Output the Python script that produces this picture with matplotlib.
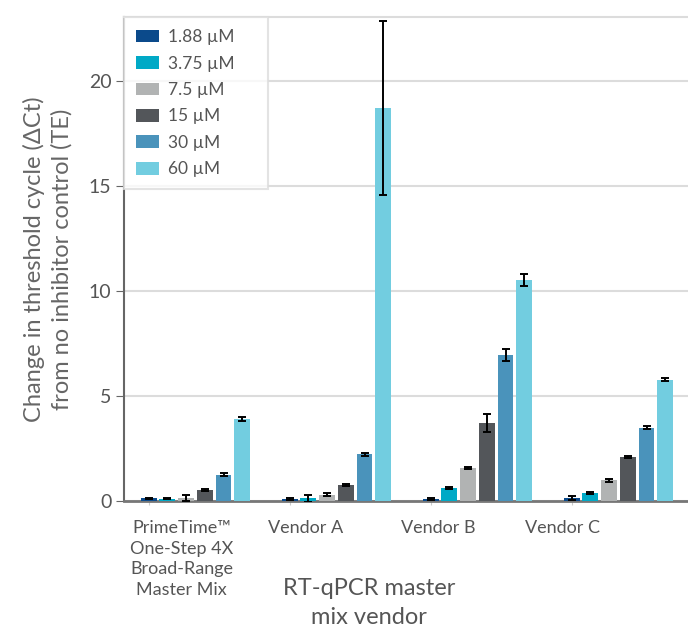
import matplotlib
matplotlib.use("Agg")
import matplotlib.pyplot as plt
import numpy as np

plt.rcParams['font.family'] = ['Lato', 'DejaVu Sans']

categories = ["PrimeTime\u2122\nOne-Step 4X\nBroad-Range\nMaster Mix", "Vendor A", "Vendor B", "Vendor C"]
concentrations = ["1.88 \u00b5M", "3.75 \u00b5M", "7.5 \u00b5M", "15 \u00b5M", "30 \u00b5M", "60 \u00b5M"]

# values[concentration][vendor]
v_188 = [0.12, 0.10, 0.10, 0.15]
v_375 = [0.10, 0.12, 0.62, 0.38]
v_75 = [0.15, 0.30, 1.57, 0.98]
v_15 = [0.52, 0.76, 3.72, 2.10]
v_30 = [1.25, 2.22, 6.95, 3.50]
v_60 = [3.90, 18.70, 10.52, 5.78]

e_188 = [0.03, 0.03, 0.03, 0.10]
e_375 = [0.02, 0.15, 0.06, 0.06]
e_75 = [0.15, 0.08, 0.06, 0.06]
e_15 = [0.06, 0.06, 0.42, 0.05]
e_30 = [0.07, 0.06, 0.30, 0.06]
e_60 = [0.08, 4.15, 0.30, 0.06]

values = [v_188, v_375, v_75, v_15, v_30, v_60]
errors = [e_188, e_375, e_75, e_15, e_30, e_60]
colors = ["#0b4a8b", "#00a9c6", "#b1b3b3", "#53565a", "#4a93bb", "#72cde0"]

fig = plt.figure(figsize=(6.88, 6.30), dpi=100)
ax = fig.add_axes([124/688, 129/630, 1 - 124/688, 484/630])

x = np.arange(len(categories))
step = 0.1325
width = 0.113
for j, (vals, errs, c, lab) in enumerate(zip(values, errors, colors, concentrations)):
    pos = x + (j - 2.5) * step
    ax.bar(pos, vals, width=width, color=c, label=lab, zorder=3)
    ax.errorbar(pos, vals, yerr=errs, fmt='none', ecolor='black', elinewidth=1.4,
                capsize=3, capthick=1.4, zorder=4)

ax.set_xlim(-0.507, 3.493)
ax.set_ylim(0, 23.05)
ax.set_yticks([0, 5, 10, 15, 20])
ax.yaxis.grid(True, color='#dcdcdc', linewidth=1.5, zorder=0)
ax.set_axisbelow(True)

ax.set_xticks(x - 2.5 * step)
ax.set_xticklabels([])
ax.tick_params(axis='x', length=3, color='#cccccc')
ax.tick_params(axis='y', length=6, color='#666666', labelsize=14, labelcolor='#555555', pad=3)

ax.spines['left'].set_color('#666666')
ax.spines['left'].set_linewidth(1.5)
ax.spines['bottom'].set_color('#777777')
ax.spines['bottom'].set_linewidth(2)
ax.spines['top'].set_color('#dcdcdc')
ax.spines['top'].set_linewidth(1.5)
ax.spines['right'].set_visible(False)

label_offsets = [-0.10, -0.22, -0.28, -0.40]
for xi, off, cat in zip(x, label_offsets, categories):
    ax.text(xi + off, -0.04, cat, transform=ax.get_xaxis_transform(), ha='center', va='top',
            fontsize=13, color='#555555', linespacing=1.35)

ax.set_ylabel("Change in threshold cycle (\u0394Ct)\nfrom no inhibitor control (TE)",
              fontsize=17, color='#666666', labelpad=12, linespacing=1.3)

fig.text(369/688, 1 - 603/630, "RT-qPCR master\nmix vendor", ha='center', va='center',
         fontsize=17, color='#555555', linespacing=1.45)

leg = ax.legend(loc='upper left', bbox_to_anchor=(0, 0, 144/564, 1), mode='expand',
                frameon=True, fancybox=False,
                fontsize=12.5, labelcolor='#555555', handlelength=1.3, handleheight=0.75,
                borderpad=0.7, labelspacing=0.6, borderaxespad=0, handletextpad=0.55)
leg.get_frame().set_edgecolor('#dcdcdc')
leg.get_frame().set_linewidth(1.5)

fig.savefig("out.png", dpi=100)
